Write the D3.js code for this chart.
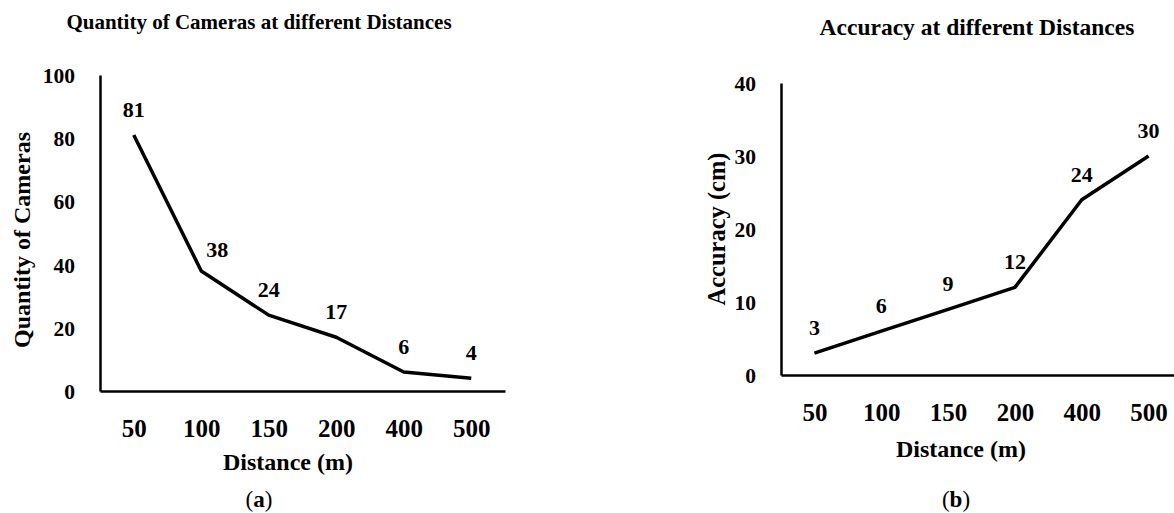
<!DOCTYPE html>
<html>
<head>
<meta charset="utf-8">
<script src="https://cdn.jsdelivr.net/npm/d3@7"></script>
<style>
  html, body { margin: 0; padding: 0; background: #fff; }
  svg { display: block; }
  text { font-family: "Liberation Serif", "DejaVu Serif", serif; font-weight: bold; fill: #000; }
  .axis path { stroke: #000; stroke-width: 2.5; }
  .series { fill: none; stroke: #000; stroke-width: 3.5; stroke-linejoin: round; }
</style>
</head>
<body>
<div id="chart"></div>
<script>
// distances shared by both panels
var distances = ['50', '100', '150', '200', '400', '500'];

// (a) quantity of cameras
var cameraCounts = [81, 38, 24, 17, 6, 4];
var cameraTicks = [0, 20, 40, 60, 80, 100];

// (b) accuracy in cm
var accuracyCm = [3, 6, 9, 12, 24, 30];
var accuracyTicks = [0, 10, 20, 30, 40];

var width = 1174, height = 513;

var svg = d3.select('#chart').append('svg')
    .attr('width', width)
    .attr('height', height);

var panels = [
  {
    values: cameraCounts,
    ticks: cameraTicks,
    yMax: 100,
    left: 100, right: 505, top: 75, bottom: 391,
    title: 'Quantity of Cameras at different Distances',
    titleX: 259, titleY: 29, titleSize: 21,
    yTitle: 'Quantity of Cameras', yTitleX: 30, yTitleY: 240, yTitleSize: 24,
    xTitleX: 288, xTitleY: 470, letter: 'a', letterX: 259,
    // the "38" label sits to the right of the line
    nudge: { 1: [16, 4] }
  },
  {
    values: accuracyCm,
    ticks: accuracyTicks,
    yMax: 40,
    left: 781, right: 1182, top: 83, bottom: 375,
    title: 'Accuracy at different Distances',
    titleX: 977, titleY: 35, titleSize: 23.5,
    yTitle: 'Accuracy (cm)', yTitleX: 725, yTitleY: 229, yTitleSize: 24.5,
    xTitleX: 961, xTitleY: 457, letter: 'b', letterX: 956,
    nudge: {}
  }
];

panels.forEach(drawPanel);

function drawPanel(p) {
  var g = svg.append('g');

  var x = d3.scalePoint()
      .domain(distances)
      .range([p.left, p.right])
      .padding(0.5);

  var y = d3.scaleLinear()
      .domain([0, p.yMax])
      .range([p.bottom, p.top]);

  var xAxis = g.append('g')
      .attr('class', 'axis')
      .attr('transform', 'translate(0,' + p.bottom + ')')
      .call(d3.axisBottom(x).tickSize(0).tickSizeOuter(0));
  xAxis.selectAll('text')
      .attr('y', 37)
      .attr('dy', '0.35em')
      .style('font-size', '25px');

  var yAxis = g.append('g')
      .attr('class', 'axis')
      .attr('transform', 'translate(' + p.left + ',0)')
      .call(d3.axisLeft(y).tickValues(p.ticks).tickSize(0).tickSizeOuter(0));
  yAxis.selectAll('text')
      .attr('x', -25)
      .attr('dy', '0.35em')
      .style('font-size', '21.5px');
  g.selectAll('.axis').attr('font-family', null).attr('font-size', null);

  var line = d3.line()
      .x(function(d, i) { return x(distances[i]); })
      .y(function(d) { return y(d); });

  g.append('path')
      .datum(p.values)
      .attr('class', 'series')
      .attr('d', line);

  g.selectAll('.point-label')
      .data(p.values)
    .enter().append('text')
      .attr('class', 'point-label')
      .attr('text-anchor', 'middle')
      .attr('dy', '0.35em')
      .style('font-size', '22px')
      .attr('x', function(d, i) { return x(distances[i]) + (p.nudge[i] ? p.nudge[i][0] : 0); })
      .attr('y', function(d, i) { return y(d) - 26 + (p.nudge[i] ? p.nudge[i][1] : 0); })
      .text(function(d) { return d; });

  g.append('text')
      .attr('x', p.titleX)
      .attr('y', p.titleY)
      .attr('text-anchor', 'middle')
      .style('font-size', p.titleSize + 'px')
      .text(p.title);

  g.append('text')
      .attr('transform', 'translate(' + p.yTitleX + ',' + p.yTitleY + ') rotate(-90)')
      .attr('text-anchor', 'middle')
      .style('font-size', p.yTitleSize + 'px')
      .text(p.yTitle);

  g.append('text')
      .attr('x', p.xTitleX)
      .attr('y', p.xTitleY)
      .attr('text-anchor', 'middle')
      .style('font-size', '24px')
      .text('Distance (m)');

  var cap = g.append('text')
      .attr('x', p.letterX)
      .attr('y', 507)
      .attr('text-anchor', 'middle')
      .style('font-size', '23px');
  cap.append('tspan').style('font-weight', 'normal').text('(');
  cap.append('tspan').text(p.letter);
  cap.append('tspan').style('font-weight', 'normal').text(')');
}
</script>
</body>
</html>
